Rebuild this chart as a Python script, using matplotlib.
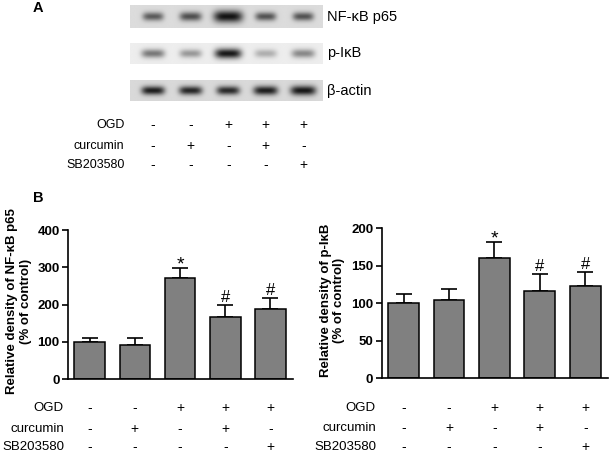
import matplotlib
matplotlib.use("Agg")
import matplotlib.pyplot as plt
import numpy as np

plt.rcParams["font.family"] = ["Liberation Sans", "DejaVu Sans"]

# treatment table (same for blots and both bar charts)
lanes = np.arange(5)
row_names = ["OGD", "curcumin", "SB203580"]
ogd = ["-", "-", "+", "+", "+"]
curcumin = ["-", "+", "-", "+", "-"]
sb203580 = ["-", "-", "-", "-", "+"]
table_rows = [ogd, curcumin, sb203580]

# western blot band darkness (0 = none, 1 = black) and relative band size
blot_names = ["NF-\u03baB p65", "p-I\u03baB", "\u03b2-actin"]
nfkb_band = [0.62, 0.68, 0.97, 0.66, 0.66]
pikb_band = [0.52, 0.38, 0.95, 0.28, 0.45]
actin_band = [0.92, 0.88, 0.86, 0.92, 0.95]
nfkb_size = [0.9, 0.95, 1.25, 0.9, 0.9]
pikb_size = [1.0, 0.95, 1.15, 0.95, 1.0]
actin_size = [1.0, 1.0, 1.0, 1.05, 1.1]
strip_bg = [0.86, 0.93, 0.85]

# densitometry (% of control), mean and upper SD
nfkb_mean = [100, 92, 271, 166, 188]
nfkb_err = [9, 17, 26, 33, 29]
nfkb_marks = ["", "", "*", "#", "#"]
pikb_mean = [100, 105, 161, 117, 123]
pikb_err = [12, 14, 21, 22, 19]
pikb_marks = ["", "", "*", "#", "#"]

W, H = 609, 454
fig = plt.figure(figsize=(W / 100, H / 100), dpi=100)


def frac(x0, y0, x1, y1):
    """pixel box (top-left origin) -> figure fraction rect"""
    return [x0 / W, 1 - y1 / H, (x1 - x0) / W, (y1 - y0) / H]


def strip_image(darkness, size, bg, n=5, lo=-0.61, hi=4.52, rows=60):
    xs = np.linspace(lo, hi, 400)
    ys = np.linspace(-1, 1, rows)
    X, Y = np.meshgrid(xs, ys)
    img = np.full(X.shape, bg)
    for i in range(n):
        wx = 0.31 * size[i]
        wy = 0.42 * size[i]
        prof = np.exp(-np.abs((X - i) / wx) ** 4) * np.exp(-(Y / wy) ** 2)
        img -= darkness[i] * (bg - 0.05) * prof
    return img


# ---- panel A: blots
blot_ax = fig.add_axes(frac(130, 0, 323, 175))
blot_ax.set_xlim(-0.61, 4.52)
blot_ax.axis("off")
strips = [(nfkb_band, nfkb_size, 5, 28), (pikb_band, pikb_size, 43, 64),
          (actin_band, actin_size, 80, 101)]
for k, (dark, size, top, bot) in enumerate(strips):
    img = strip_image(dark, size, strip_bg[k])
    blot_ax.imshow(img, cmap="gray", vmin=0, vmax=1, aspect="auto",
                   extent=(-0.61, 4.52, bot, top), interpolation="bilinear")
    blot_ax.text(4.62, (top + bot) / 2, blot_names[k], fontsize=10.5,
                 va="center", ha="left", clip_on=False)
blot_ax.set_ylim(175, 0)

for r, (name, row) in enumerate(zip(row_names, table_rows)):
    y = [125, 146, 165][r]
    blot_ax.text(-0.76, y, name, fontsize=9, ha="right", va="center")
    for i, s in enumerate(row):
        blot_ax.text(lanes[i], y, s, fontsize=10, ha="center", va="center")

fig.text(33 / W, 1 - 8 / H, "A", fontsize=10.5, fontweight="bold", va="center")
fig.text(33 / W, 1 - 198 / H, "B", fontsize=10.5, fontweight="bold", va="center")


def bar_panel(rect, mean, err, marks, ymax, step, ylabel, name_x):
    ax = fig.add_axes(rect)
    ax.bar(lanes, mean, width=0.68, color="#808080", edgecolor="black",
           linewidth=1.1, zorder=2)
    ax.errorbar(lanes, mean, yerr=[np.zeros(5), err], fmt="none",
                ecolor="black", elinewidth=1.2, capsize=5.5, capthick=1.2,
                zorder=1)
    for i, m in enumerate(marks):
        if m:
            star = m == "*"
            ax.annotate(m, (lanes[i], mean[i] + err[i]),
                        xytext=(0, -1 if star else 2), textcoords="offset points",
                        ha="center", va="baseline", fontsize=14 if star else 12)
    ax.set_xlim(-0.48, 4.5)
    ax.set_ylim(0, ymax)
    ax.set_yticks(np.arange(0, ymax + 1, step))
    ax.set_xticks([])
    for s in ["top", "right"]:
        ax.spines[s].set_visible(False)
    for s in ["left", "bottom"]:
        ax.spines[s].set_linewidth(1.2)
    ax.tick_params(axis="y", length=4, width=1.2, labelsize=9.5, pad=2)
    for t in ax.get_yticklabels():
        t.set_fontweight("bold")
    ax.set_ylabel(ylabel, fontsize=9.5, fontweight="bold", linespacing=1.2)
    ax.yaxis.set_label_coords(-0.16, 0.52)
    tr = ax.get_xaxis_transform()
    for r, (nm, row) in enumerate(zip(row_names, table_rows)):
        y = [-0.195, -0.333, -0.455][r]
        fig.text(name_x / W, ax.get_position().y0 + y * ax.get_position().height,
                 nm, fontsize=9.5, ha="right", va="center")
        for i, s in enumerate(row):
            ax.text(lanes[i], y, s, transform=tr, fontsize=10, ha="center",
                    va="center", clip_on=False)
    return ax


bar_panel(frac(68, 230, 293, 379), nfkb_mean, nfkb_err, nfkb_marks, 400, 100,
          "Relative density of NF-\u03baB p65\n(% of control)", 64)
bar_panel(frac(381.7, 228.3, 608, 378.3), pikb_mean, pikb_err, pikb_marks,
          200, 50, "Relative density of p-I\u03baB\n(% of control)", 376)

fig.savefig("out.png", dpi=100)
